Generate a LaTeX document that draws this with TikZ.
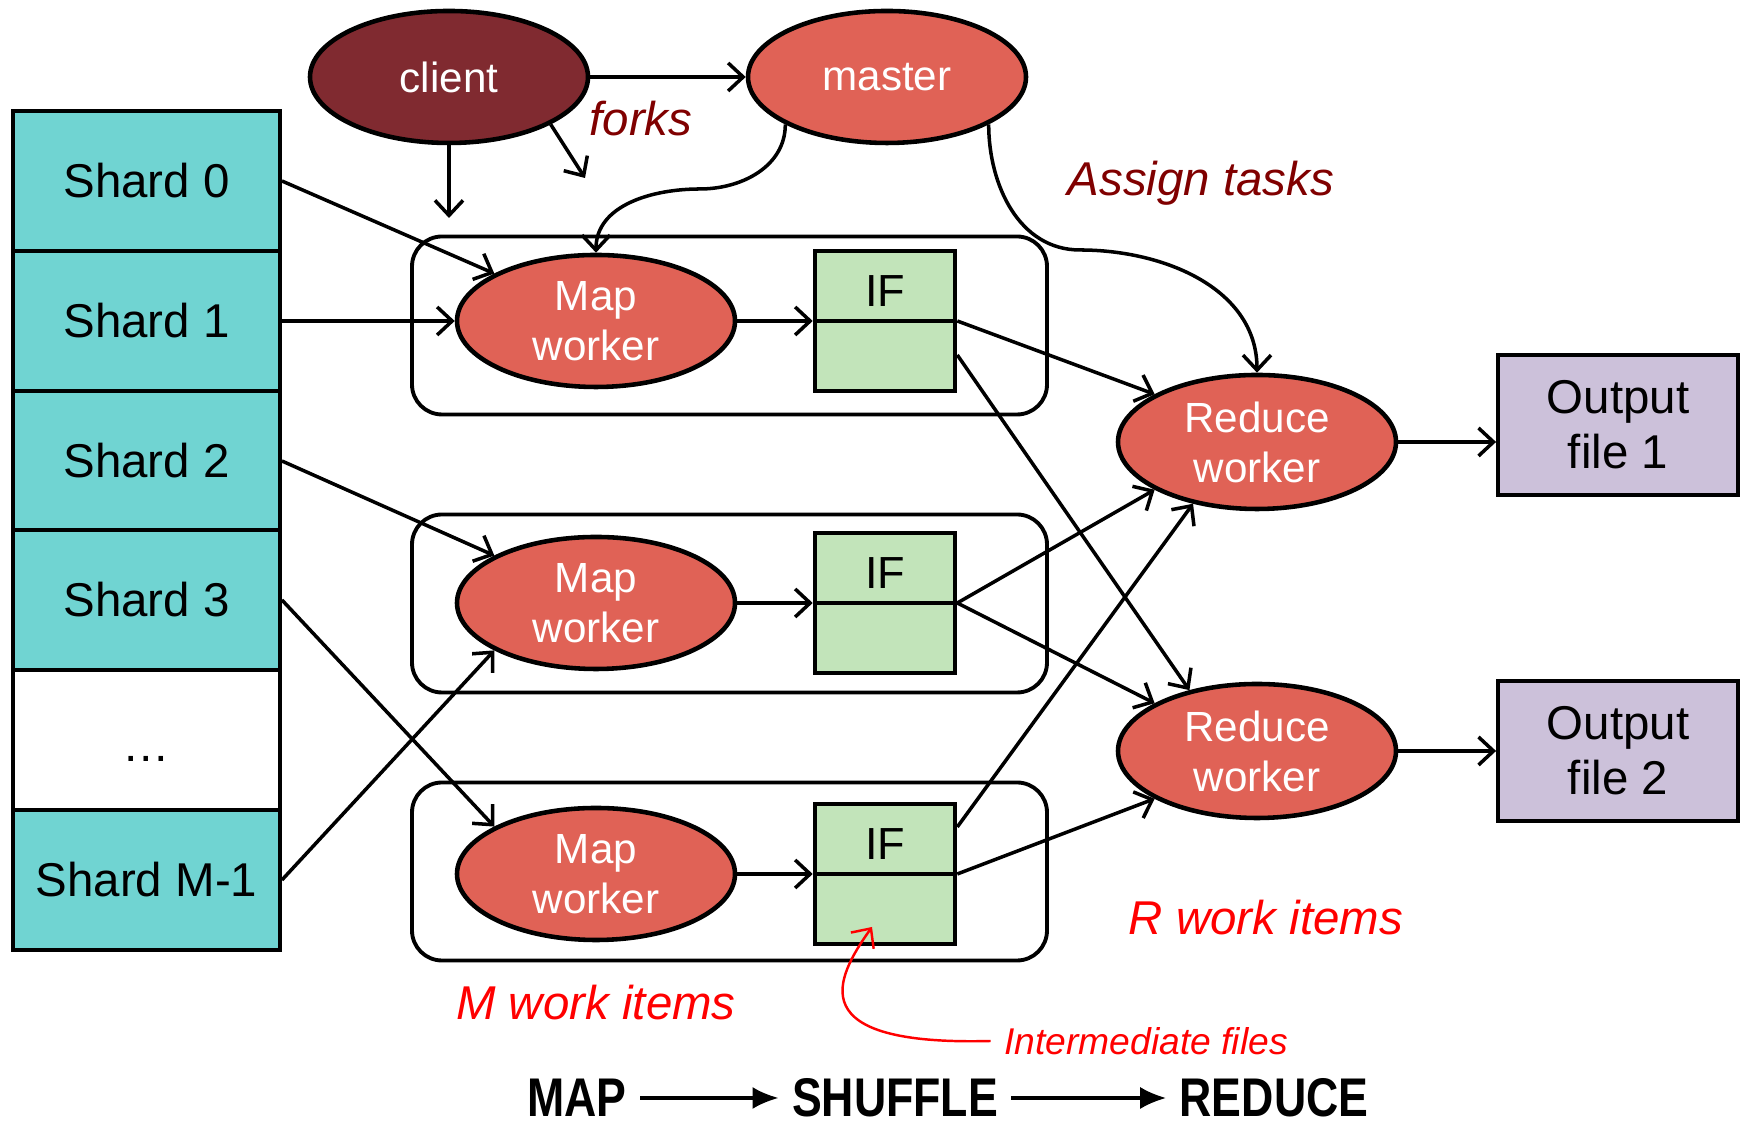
\documentclass[tikz,border=0pt]{standalone}
\usepackage{fontspec}
\usepackage{graphicx}
\setmainfont{Liberation Sans}
\usetikzlibrary{shapes.geometric,arrows.meta}

\definecolor{shardcyan}{RGB}{112,212,210}
\definecolor{clientred}{RGB}{128,42,48}
\definecolor{workerred}{RGB}{224,98,86}
\definecolor{ifgreen}{RGB}{194,228,186}
\definecolor{outlilac}{RGB}{204,193,218}
\definecolor{darkred}{RGB}{128,0,0}

\begin{document}
\begin{tikzpicture}[line width=1pt, >={Straight Barb[length=1.5mm,width=2.8mm]},
    shard/.style={rectangle,draw,line width=1.1pt,fill=shardcyan,minimum width=2.67cm,minimum height=1.40cm,font=\fontsize{13.5}{16}\selectfont},
    worker/.style={ellipse,draw,line width=1.3pt,fill=workerred,text=white,inner sep=0pt,minimum width=2.78cm,minimum height=1.32cm,align=center,font=\fontsize{12}{14.2}\selectfont},
    group/.style={rectangle,draw,line width=1.1pt,rounded corners=0.3cm,minimum width=6.35cm,minimum height=1.78cm},
    ifbox/.style={rectangle,draw,line width=1.3pt,fill=ifgreen,minimum width=1.40cm,minimum height=1.40cm},
    outbox/.style={rectangle,draw,line width=1.1pt,fill=outlilac,minimum width=2.40cm,minimum height=1.40cm,align=center,font=\fontsize{13.5}{15.7}\selectfont},
    note/.style={font=\fontsize{13.5}{16}\selectfont\itshape},
    stage/.style={font=\fontsize{15.5}{18}\selectfont\bfseries}]

    \useasboundingbox (0,0) rectangle (17.41,11.24);

    % map work items
    \node[group] at (7.295, 7.985) (g1) {};
    \node[group] at (7.295, 5.205) (g2) {};
    \node[group] at (7.295, 2.525) (g3) {};

    % input shards
    \node[shard] at (1.465, 9.43) (s0) {Shard 0};
    \node[shard] at (1.465, 8.03) (s1) {Shard 1};
    \node[shard] at (1.465, 6.63) (s2) {Shard 2};
    \node[shard] at (1.465, 5.24) (s3) {Shard 3};
    \node[shard,fill=white] at (1.465, 3.84) (sdots) {};
    \node[font=\fontsize{13.5}{16}\selectfont] at ([yshift=-0.19cm]sdots.center) (dotstext) {\dots};
    \node[shard] at (1.465, 2.44) (sm) {Shard M-1};

    \node[worker,fill=clientred] at (4.49, 10.47) (client) {client};
    \node[worker] at (8.87, 10.47) (master) {master};

    \node[worker] at (5.96, 8.03) (m1) {Map\\worker};
    \node[worker] at (5.96, 5.21) (m2) {Map\\worker};
    \node[worker] at (5.96, 2.50) (m3) {Map\\worker};

    \node[ifbox] at (8.85, 8.03) (if1) {};
    \node[ifbox] at (8.85, 5.21) (if2) {};
    \node[ifbox] at (8.85, 2.50) (if3) {};
    \draw[line width=1.3pt] (if1.west) -- (if1.east);
    \draw[line width=1.3pt] (if2.west) -- (if2.east);
    \draw[line width=1.3pt] (if3.west) -- (if3.east);
    \node[font=\fontsize{12.8}{15}\selectfont] at ([yshift=0.30cm]if1.center) (if1t) {IF};
    \node[font=\fontsize{12.8}{15}\selectfont] at ([yshift=0.30cm]if2.center) (if2t) {IF};
    \node[font=\fontsize{12.8}{15}\selectfont] at ([yshift=0.30cm]if3.center) (if3t) {IF};

    \node[worker,minimum height=1.34cm] at (12.57, 6.82) (red1) {Reduce\\worker};
    \node[worker,minimum height=1.34cm] at (12.57, 3.73) (red2) {Reduce\\worker};

    \node[outbox] at (16.18, 6.99) (out1) {Output\\file 1};
    \node[outbox] at (16.18, 3.73) (out2) {Output\\file 2};

    % labels
    \node[note,text=darkred] at (6.41, 10.05) (forks) {forks};
    \node[note,text=darkred] at (12.01, 9.41) (assign) {Assign tasks};
    \node[note,text=red] at (12.66, 2.06) (ritems) {R work items};
    \node[note,text=red] at (5.96, 1.21) (mitems) {M work items};
    \node[note,text=red,font=\fontsize{10.6}{12}\selectfont\itshape] at (11.46, 0.83) (ifnote) {Intermediate files};

    \node[stage] at (5.77, 0.26) (map) {\scalebox{0.82}[1]{MAP}};
    \node[stage] at (8.95, 0.26) (shuffle) {\scalebox{0.82}[1]{SHUFFLE}};
    \node[stage] at (12.74, 0.26) (reduce) {\scalebox{0.82}[1]{REDUCE}};

    \coordinate (c1) at (4.49, 9.06);
    \coordinate (c2) at (5.85, 9.46);
    \coordinate (b1) at (7.00, 9.35);
    \coordinate (b2) at (10.80, 8.74);
    \coordinate (iftip) at (8.72, 1.97);

    % client and master
    \path[->] (client.east) edge (master.west);
    \path[->] (client.south) edge (c1);
    \path[->] (client.-25) edge (c2);
    \draw[->] (master.205) to[out=-90,in=0] (b1) to[out=180,in=90] (m1.north);
    \draw[->] (master.-25) to[out=-90,in=180] (b2) to[out=0,in=90] (red1.north);

    % map phase
    \path[->] (s0.east) edge (m1.155);
    \path[->] (s1.east) edge (m1.west);
    \path[->] (s2.east) edge (m2.155);
    \path[->] (s3.east) edge (m3.155);
    \path[->] (sm.east) edge (m2.205);
    \path[->] (m1.east) edge (if1.west);
    \path[->] (m2.east) edge (if2.west);
    \path[->] (m3.east) edge (if3.west);

    % shuffle
    \path[->] (if1.east) edge (red1.155);
    \path[->] ([yshift=-0.34cm]if1.east) edge (red2.138);
    \path[->] (if2.east) edge (red1.205);
    \path[->] (if2.east) edge (red2.155);
    \path[->] ([yshift=0.47cm]if3.east) edge (red1.224);
    \path[->] (if3.east) edge (red2.205);

    % reduce phase
    \path[->] (red1.east) edge (red1.east -| out1.west);
    \path[->] (red2.east) edge (out2.west);

    \draw[->,red,line width=0.7pt] (ifnote.west) .. controls (8.0, 0.78) and (8.35, 1.45) .. (iftip);

    \path[-{Latex[length=2.6mm,width=2.2mm]},line width=0.9pt] (map.east) edge (shuffle.west);
    \path[-{Latex[length=2.6mm,width=2.2mm]},line width=0.9pt] (shuffle.east) edge (reduce.west);
\end{tikzpicture}
\end{document}
